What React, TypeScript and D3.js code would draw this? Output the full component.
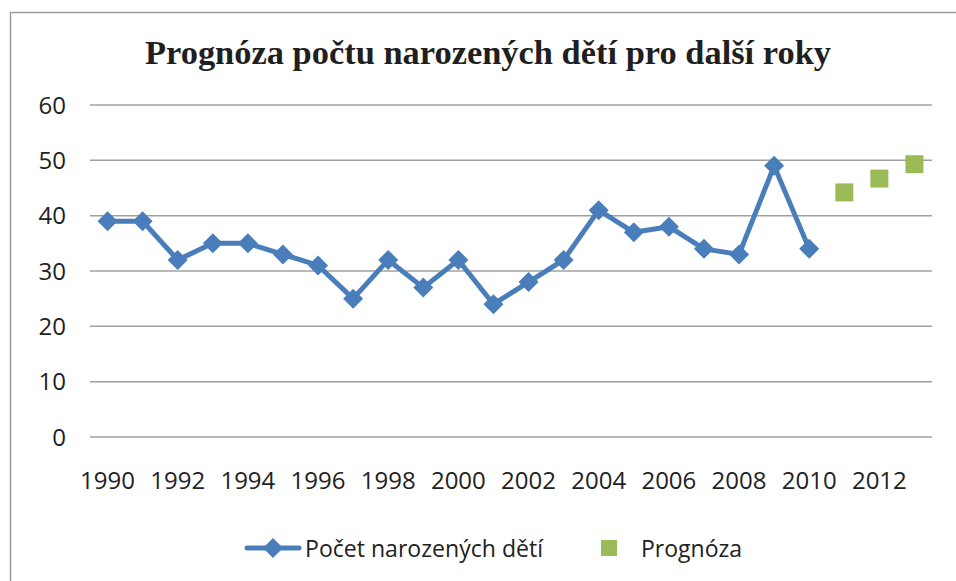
import React from "react";
import * as d3 from "d3";

const years: number[] = Array.from({ length: 24 }, (_, i) => 1990 + i);
const actualYears = [1990,1991,1992,1993,1994,1995,1996,1997,1998,1999,2000,2001,2002,2003,2004,2005,2006,2007,2008,2009,2010];
const actualValues = [39,39,32,35,35,33,31,25,32,27,32,24,28,32,41,37,38,34,33,49,34];
const forecastYears = [2011, 2012, 2013];
const forecastValues = [44.2, 46.7, 49.3];
const yTicks = [0, 10, 20, 30, 40, 50, 60];
const xTickLabels = [1990,1992,1994,1996,1998,2000,2002,2004,2006,2008,2010,2012];

const W = 956, H = 581;
const FONT = "'Open Sans', sans-serif";

export default function App() {
  const x = d3.scaleBand<number>().domain(years).range([90, 932]).padding(0);
  const cx = (yr: number) => (x(yr) as number) + x.bandwidth() / 2;
  const y = d3.scaleLinear().domain([0, 60]).range([437, 105]);
  const line = d3.line<number>().x((_, i) => cx(actualYears[i])).y((d) => y(d));
  const diamond = (px: number, py: number, r: number) =>
    `M${px},${py - r}L${px + r},${py}L${px},${py + r}L${px - r},${py}Z`;

  return (
    <svg width={W} height={H} style={{ position: "absolute", left: 0, top: 0, background: "#fff" }}>
      <rect x={10.5} y={12.5} width={W + 20} height={H + 20} fill="#fff" stroke="#9a9a9a" strokeWidth={1.5} />
      <text x={488} y={64} textAnchor="middle" fontFamily="'Liberation Serif', 'Times New Roman', serif" fontWeight="bold" fontSize={33.5} fill="#1f1f1f" textLength={686} lengthAdjust="spacingAndGlyphs">
        Prognóza počtu narozených dětí pro další roky
      </text>
      {yTicks.map((t) => (
        <g key={t}>
          <line x1={90} x2={932} y1={y(t)} y2={y(t)} stroke="#a0a0a0" strokeWidth={1.5} />
          <text x={66} y={y(t)} dy="0.36em" textAnchor="end" fontFamily={FONT} fontSize={24} fill="#222">{t}</text>
        </g>
      ))}
      {xTickLabels.map((yr) => (
        <text key={yr} x={cx(yr)} y={488.5} textAnchor="middle" fontFamily={FONT} fontSize={24} fill="#222">{yr}</text>
      ))}
      <path d={line(actualValues) || ""} fill="none" stroke="#4a7ebb" strokeWidth={5} strokeLinejoin="round" />
      {actualValues.map((v, i) => (
        <path key={i} d={diamond(cx(actualYears[i]), y(v), 10)} fill="#4a7ebb" />
      ))}
      {forecastValues.map((v, i) => (
        <rect key={i} x={cx(forecastYears[i]) - 9} y={y(v) - 9} width={18} height={18} fill="#9bbb59" />
      ))}
      <line x1={247} x2={299} y1={548} y2={548} stroke="#4a7ebb" strokeWidth={5} strokeLinecap="round" />
      <path d={diamond(273, 548, 10)} fill="#4a7ebb" />
      <text x={305} y={556.5} fontFamily={FONT} fontSize={23} fill="#222" textLength={238} lengthAdjust="spacingAndGlyphs">Počet narozených dětí</text>
      <rect x={601} y={540} width={16} height={16} fill="#9bbb59" />
      <text x={641} y={556.5} fontFamily={FONT} fontSize={23} fill="#222">Prognóza</text>
    </svg>
  );
}
